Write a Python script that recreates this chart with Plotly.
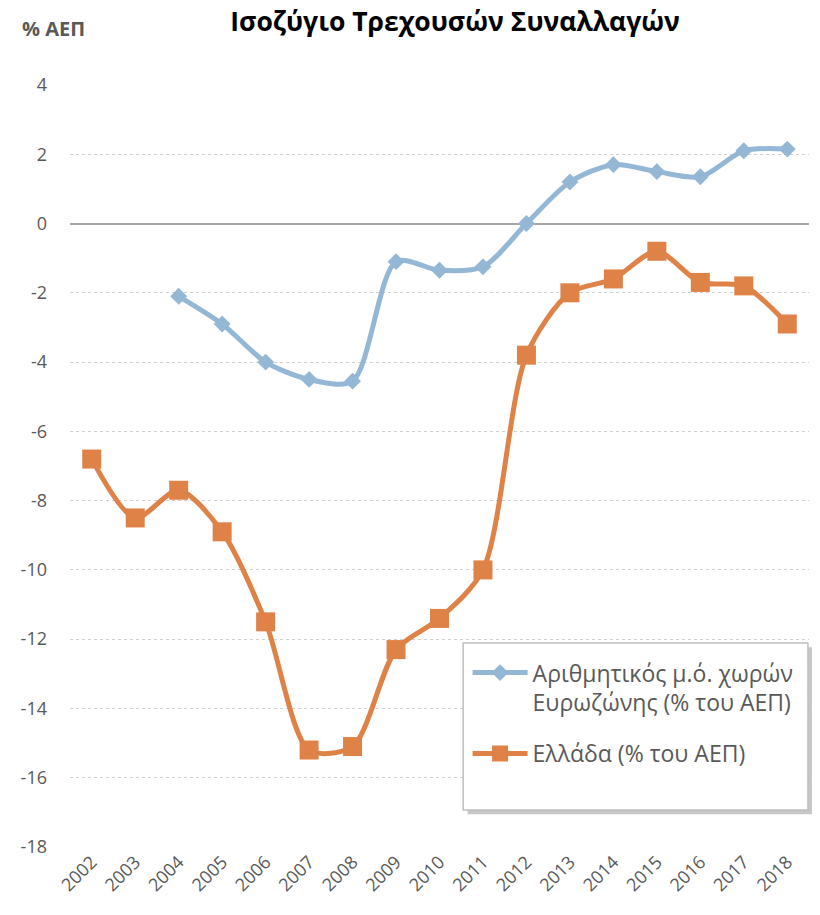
import plotly.graph_objects as go

years = [str(y) for y in range(2002, 2019)]
euro_years = [str(y) for y in range(2004, 2019)]
euro_vals = [-2.1, -2.9, -4.0, -4.5, -4.55, -1.1, -1.35, -1.25, 0.0, 1.2, 1.7, 1.5, 1.35, 2.1, 2.15]
greece_vals = [-6.8, -8.5, -7.7, -8.9, -11.5, -15.2, -15.1, -12.3, -11.4, -10.0, -3.8, -2.0, -1.6, -0.8, -1.7, -1.8, -2.9]
y_ticks = list(range(-18, 5, 2))
y_tick_text = [str(v) for v in y_ticks]

BLUE = "#95B7D6"
ORANGE = "#DF8247"
TXT = "#595959"
FONT = "Open Sans, Noto Sans, sans-serif"

fig = go.Figure()
fig.add_trace(go.Scatter(
    x=euro_years, y=euro_vals, mode="lines+markers",
    name="Αριθμητικός μ.ό. χωρών<br>Ευρωζώνης (% του ΑΕΠ)",
    legendgroup="euro",
    line=dict(color=BLUE, width=5, shape="spline", smoothing=0.8),
    marker=dict(symbol="diamond", size=13, color=BLUE),
))
fig.add_trace(go.Scatter(
    x=years, y=greece_vals, mode="lines+markers",
    name="Ελλάδα (% του ΑΕΠ)",
    legendgroup="gr",
    line=dict(color=ORANGE, width=5, shape="spline", smoothing=0.8),
    marker=dict(symbol="square", size=19, color=ORANGE),
))

# legend shadow and box
fig.add_shape(type="rect", xref="paper", yref="paper",
              x0=0.538, x1=1.004, y0=0.043, y1=0.262,
              fillcolor="rgba(0,0,0,0.22)", line=dict(width=0), layer="above")
fig.add_shape(type="rect", xref="paper", yref="paper",
              x0=0.532, x1=0.9986, y0=0.0486, y1=0.2677,
              fillcolor="white", line=dict(color="#BFBFBF", width=1.5), layer="above")

fig.update_layout(
    width=820, height=915,
    margin=dict(l=70, r=11, t=85, b=68, autoexpand=False),
    paper_bgcolor="white", plot_bgcolor="white",
    font=dict(family=FONT, color=TXT, size=18),
    title=dict(text="<b>Ισοζύγιο Τρεχουσών Συναλλαγών</b>", x=0.555, xanchor="center",
               y=0.976, yanchor="middle", font=dict(size=26.5, color="black", family=FONT)),
    showlegend=True,
    legend=dict(x=0.538, y=0.257, xanchor="left", yanchor="top",
                bgcolor="rgba(0,0,0,0)", borderwidth=0,
                font=dict(size=23, color=TXT, family=FONT),
                itemwidth=55, tracegroupgap=18, traceorder="grouped", valign="top"),
    xaxis=dict(type="category", categoryorder="array", categoryarray=years,
               range=[-0.5, 16.5], tickangle=-45, showgrid=False, showline=False,
               ticks="", tickfont=dict(size=18, color=TXT), automargin=False),
    yaxis=dict(range=[-18, 4], tickvals=y_ticks, ticktext=y_tick_text, showgrid=True,
               gridcolor="#D0D0D0", griddash="dot", gridwidth=1.3,
               zeroline=True, zerolinecolor="#A6A6A6", zerolinewidth=1.5,
               ticks="", ticklabelstandoff=22, tickfont=dict(size=18, color=TXT),
               automargin=False),
)

fig.add_annotation(text="<b>% ΑΕΠ</b>", xref="paper", yref="paper", x=-0.068, y=1.074,
                   xanchor="left", yanchor="middle", showarrow=False,
                   font=dict(size=20, color=TXT, family=FONT))

fig.write_html("out.html", config={"displayModeBar": False},
               post_script="document.body.style.margin='0';")
